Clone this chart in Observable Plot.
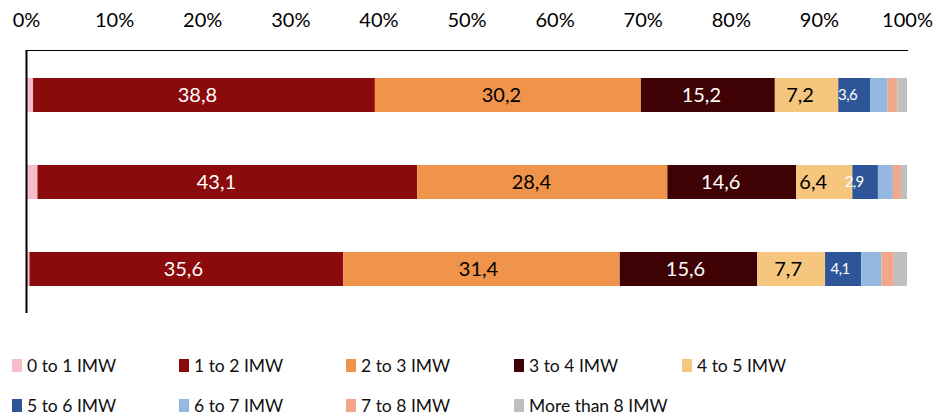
<!DOCTYPE html>
<html>
<head>
<meta charset="utf-8">
<script src="https://cdn.jsdelivr.net/npm/d3@7"></script>
<script src="https://cdn.jsdelivr.net/npm/@observablehq/plot@0.6"></script>
<style>
  html, body { margin: 0; padding: 0; background: #fff; }
  #wrap { position: relative; width: 939px; height: 419px; font-family: Lato, "Open Sans", sans-serif; }
  #legend { position: absolute; left: 0; top: 0; width: 939px; height: 419px; pointer-events: none; }
  .item { position: absolute; display: flex; align-items: center; font-size: 17.5px; color: #111; white-space: nowrap; }
  .sw { width: 10px; height: 13px; margin-right: 5px; }
</style>
</head>
<body>
<div id="wrap"><div id="chart"></div><div id="legend"></div></div>
<script>
// ---- data ----
const rows = ["Row 1", "Row 2", "Row 3"];
const seriesNames = ["0 to 1 IMW", "1 to 2 IMW", "2 to 3 IMW", "3 to 4 IMW", "4 to 5 IMW",
                     "5 to 6 IMW", "6 to 7 IMW", "7 to 8 IMW", "More than 8 IMW"];
const s0to1 = [0.8, 1.3, 0.4];
const s1to2 = [38.8, 43.1, 35.6];
const s2to3 = [30.2, 28.4, 31.4];
const s3to4 = [15.2, 14.6, 15.6];
const s4to5 = [7.2, 6.4, 7.7];
const s5to6 = [3.6, 2.9, 4.1];
const s6to7 = [2.0, 1.7, 2.3];
const s7to8 = [1.1, 0.9, 1.4];
const sOver8 = [1.1, 0.7, 1.5];
const xTicks = [0, 10, 20, 30, 40, 50, 60, 70, 80, 90, 100];
const colors = ["#F9BCCB", "#8B0A0B", "#EF944A", "#3E0205", "#F6C67F",
                "#2E5597", "#95B8E0", "#F2A68A", "#BFBFBF"];
const labelFill = [null, "#ffffff", "#000000", "#ffffff", "#000000", "#ffffff", null, null, null];
const labelSize = [0, 20, 20, 20, 20, 15, 0, 0, 0];

const seriesValues = [s0to1, s1to2, s2to3, s3to4, s4to5, s5to6, s6to7, s7to8, sOver8];
const data = [];
seriesValues.forEach((vals, si) => {
  vals.forEach((v, ri) => data.push({row: rows[ri], series: seriesNames[si], si, value: v}));
});
const labelled = data.filter(d => labelFill[d.si]);

const fmt = v => String(v.toFixed(1)).replace(".", ",");

const chart = Plot.plot({
  width: 939,
  height: 330,
  marginLeft: 26,
  marginRight: 32,
  marginTop: 50,
  marginBottom: 17,
  style: {fontFamily: "Lato, 'Open Sans', sans-serif", background: "#fff"},
  x: {domain: [0, 100], ticks: xTicks, tickFormat: d => d + "%", axis: null},
  y: {domain: rows, paddingInner: 0.612, paddingOuter: 0.306, axis: null},
  color: {domain: seriesNames, range: colors},
  marks: [
    Plot.barX(data, Plot.stackX({x: "value", y: "row", fill: "series", order: seriesNames})),
    Plot.text(labelled, Plot.stackX({
      x: "value", y: "row", z: "series", order: seriesNames,
      text: d => fmt(d.value),
      fill: d => labelFill[d.si],
      fontSize: d => labelSize[d.si]
    })),
    Plot.axisX({anchor: "top", ticks: xTicks, tickFormat: d => d + "%", tickSize: 0, tickPadding: 24,
                fontSize: 20, fill: "#000", label: null}),
    Plot.frame({anchor: "top", stroke: "#000", strokeWidth: 1}),
    Plot.ruleX([0], {stroke: "#000", strokeWidth: 2})
  ]
});
// tighten the small labels on the narrow blue segments
chart.querySelectorAll("text").forEach(t => {
  if (t.getAttribute("font-size") === "15") t.style.letterSpacing = "-0.6px";
});
document.getElementById("chart").appendChild(chart);

// ---- legend ----
const legend = document.getElementById("legend");
const legendX = [12, 179, 346, 514, 682];
const legendY = [359, 399];
seriesNames.forEach((name, i) => {
  const it = document.createElement("div");
  it.className = "item";
  it.style.left = legendX[i % 5] + "px";
  it.style.top = (legendY[Math.floor(i / 5)] - 3) + "px";
  it.style.height = "19px";
  const sw = document.createElement("span");
  sw.className = "sw";
  sw.style.background = colors[i];
  const tx = document.createElement("span");
  tx.textContent = name;
  it.appendChild(sw); it.appendChild(tx);
  legend.appendChild(it);
});
</script>
</body>
</html>
